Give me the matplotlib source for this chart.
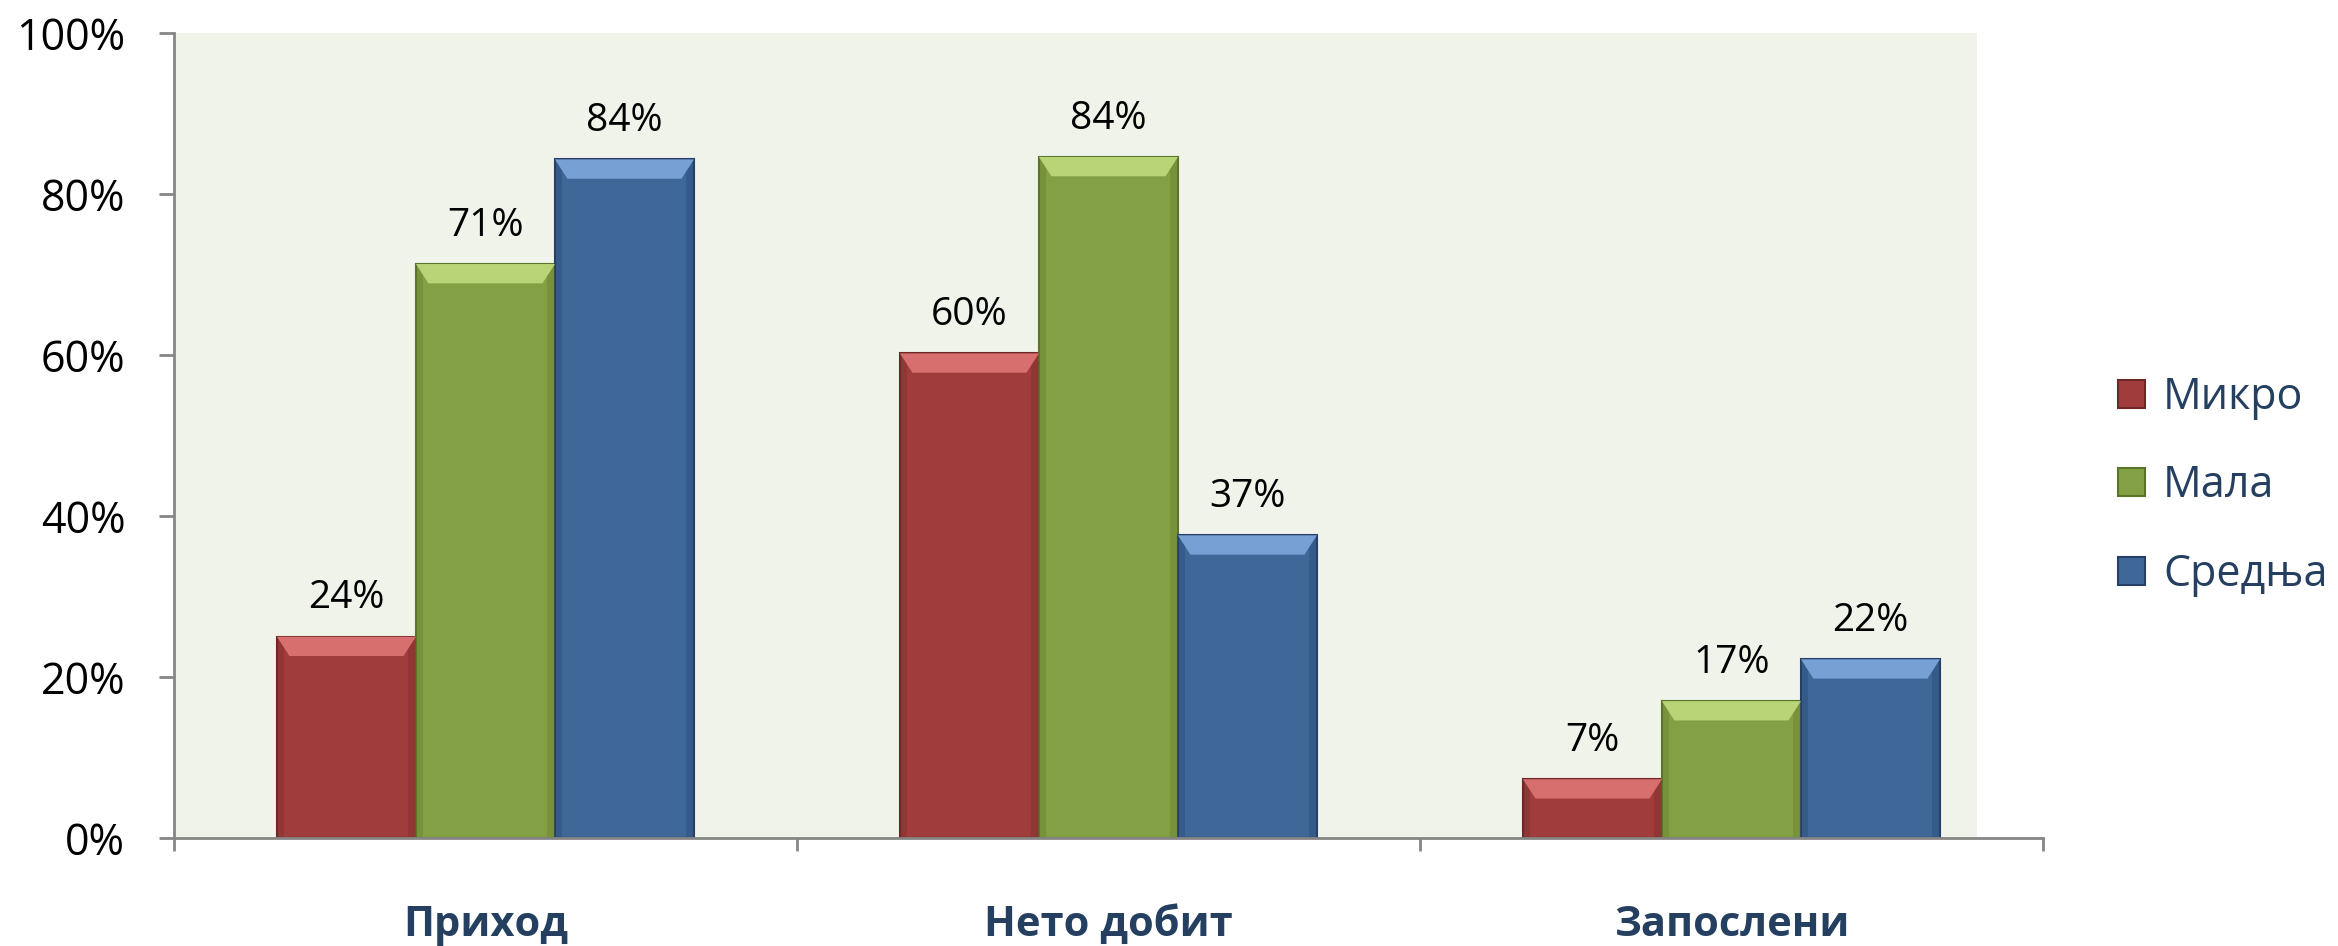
import matplotlib
matplotlib.use("Agg")
import matplotlib.pyplot as plt
from matplotlib.patches import Polygon, Rectangle, Patch

plt.rcParams['font.family'] = ['Open Sans', 'DejaVu Sans']

# data
categories = ["Приход", "Нето добит", "Запослени"]
series = ["Микро", "Мала", "Средња"]
mikro = [25.0, 60.2, 7.3]
mala = [71.3, 84.6, 17.0]
srednja = [84.3, 37.6, 22.2]
mikro_labels = ["24%", "60%", "7%"]
mala_labels = ["71%", "84%", "17%"]
srednja_labels = ["84%", "37%", "22%"]
y_ticks = [0, 20, 40, 60, 80, 100]

# face, highlight, dark edge
colors = [("#A03D3C", "#D66F6E", "#6E2726"),
          ("#84A044", "#B9D476", "#5A7429"),
          ("#3F6898", "#77A0D4", "#253F69")]

values = [mikro, mala, srednja]
labels = [mikro_labels, mala_labels, srednja_labels]

fig = plt.figure(figsize=(23.38, 9.46), dpi=100)
ax = fig.add_axes([0.0744, 0.1142, 0.7994, 0.8509])
ax.set_facecolor("white")

# plot-area fill stops a bit before the end of the axis line
ax.add_patch(Rectangle((0, 0), 0.9647, 1, transform=ax.transAxes,
                       facecolor="#F0F3EA", edgecolor="none", zorder=0))

width = 0.2231
x = list(range(len(categories)))
for k, (vals, labs) in enumerate(zip(values, labels)):
    face, light, dark = colors[k]
    pos = [i + (k - 1) * width for i in x]
    bars = ax.bar(pos, vals, width, color=face, edgecolor=dark,
                  linewidth=1.5, zorder=2)
    for b, lab in zip(bars, labs):
        x0 = b.get_x()
        x1 = x0 + b.get_width()
        h = b.get_height()
        side = 0.02
        band = 2.4
        # side shading
        ax.add_patch(Rectangle((x0, 0), side * 0.6, h, facecolor=dark,
                               alpha=0.3, edgecolor="none", zorder=3))
        ax.add_patch(Rectangle((x1 - side * 0.6, 0), side * 0.6, h,
                               facecolor=dark, alpha=0.3,
                               edgecolor="none", zorder=3))
        # top bevel highlight
        ax.add_patch(Polygon([(x0, h), (x1, h), (x1 - side, h - band),
                              (x0 + side, h - band)], closed=True,
                             facecolor=light, edgecolor="none", zorder=3))
        ax.annotate(lab, (b.get_x() + b.get_width() / 2, h),
                    xytext=(0, 14), textcoords="offset points",
                    ha="center", va="bottom", fontsize=28, color="black",
                    zorder=4)

ax.set_xlim(-0.5, 2.5)
ax.set_ylim(0, 100)
ax.set_yticks(y_ticks)
ax.set_yticklabels([f"{t}%" for t in y_ticks])
ax.set_xticks(x)
ax.set_xticklabels(categories, fontsize=30, fontweight="bold",
                   color="#243F60")
ax.set_xticks([-0.5, 0.5, 1.5, 2.5], minor=True)

ax.tick_params(axis="y", labelsize=31, length=11, width=2,
               color="#868686", pad=24, direction="out")
ax.tick_params(axis="x", which="major", length=0, pad=48)
ax.tick_params(axis="x", which="minor", length=9, width=2,
               color="#868686", direction="out")

for s in ["top", "right"]:
    ax.spines[s].set_visible(False)
for s in ["left", "bottom"]:
    ax.spines[s].set_color("#868686")
    ax.spines[s].set_linewidth(2)
    ax.spines[s].set_zorder(5)

handles = [Patch(facecolor=c[0], edgecolor=c[2], linewidth=1.5)
           for c in colors]
leg = fig.legend(handles, series, loc="center left",
                 bbox_to_anchor=(0.8894, 0.486), frameon=False,
                 fontsize=31, handlelength=0.62, handleheight=0.62,
                 handletextpad=0.42, labelspacing=1.02)
for t in leg.get_texts():
    t.set_color("#243F60")

fig.savefig("out.png", dpi=100)
